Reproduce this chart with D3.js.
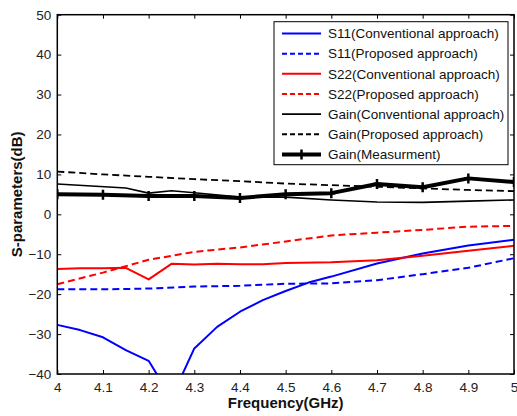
<!DOCTYPE html>
<html><head><meta charset="utf-8">
<script src="https://cdn.jsdelivr.net/npm/d3@7"></script>
<style>body{margin:0;background:#fff}svg{display:block}text{font-family:"Liberation Sans",Arial,sans-serif}</style>
</head><body><svg id="c" width="517" height="416"></svg>
<script>
const freq = [4,4.1,4.2,4.3,4.4,4.5,4.6,4.7,4.8,4.9,5];
const s11ConvF = [4,4.05,4.1,4.15,4.2,4.25,4.3,4.35,4.4,4.45,4.5,4.55,4.6,4.7,4.8,4.9,5];
const s11Conv  = [-27.7,-29.0,-30.8,-34.0,-36.7,-46,-33.6,-28.2,-24.4,-21.5,-19.2,-17.1,-15.6,-12.3,-9.8,-7.8,-6.4];
const s11Prop  = [-18.8,-18.8,-18.6,-18.1,-17.9,-17.4,-17.3,-16.5,-15.0,-13.4,-11.0];
const s22ConvF = [4,4.05,4.1,4.15,4.2,4.25,4.3,4.35,4.4,4.45,4.5,4.6,4.7,4.8,4.9,5];
const s22Conv  = [-13.7,-13.5,-13.5,-13.4,-16.3,-12.4,-12.6,-12.4,-12.5,-12.5,-12.2,-12.0,-11.5,-10.4,-9.1,-7.9];
const s22Prop  = [-17.5,-14.6,-11.4,-9.4,-8.3,-6.8,-5.3,-4.6,-3.9,-3.1,-2.9];
const gainConvF = [4,4.15,4.2,4.25,4.3,4.4,4.5,4.6,4.7,4.8,4.9,5];
const gainConv  = [7.6,6.6,5.3,5.9,5.4,4.3,4.3,3.6,3.1,3.0,3.3,3.6];
const gainProp  = [10.7,10.0,9.4,8.8,8.3,7.7,7.3,6.9,6.5,6.1,5.8];
const gainMeas  = [5.0,4.9,4.6,4.6,4.1,5.0,5.3,7.6,6.8,9.0,8.1];
const xTicks = [4,4.1,4.2,4.3,4.4,4.5,4.6,4.7,4.8,4.9,5];
const yTicks = [-40,-30,-20,-10,0,10,20,30,40,50];
const legendLabels = ["S11(Conventional approach)","S11(Proposed approach)","S22(Conventional approach)","S22(Proposed approach)","Gain(Conventional approach)","Gain(Proposed approach)","Gain(Measurment)"];

const svg = d3.select("#c");
const L=57.3, R=514, T=14.7, B=374;
const x = d3.scaleLinear().domain([4,5]).range([L,R]);
const y = d3.scaleLinear().domain([-40,50]).range([B,T]);

svg.append("defs").append("clipPath").attr("id","clip").append("rect")
  .attr("x",L).attr("y",T).attr("width",R-L).attr("height",B-T);

const g = svg.append("g").attr("clip-path","url(#clip)");
const line = d3.line().x(d=>x(d[0])).y(d=>y(d[1]));
const zip=(a,b)=>a.map((v,i)=>[v,b[i]]);

const series = [
  {xs:s11ConvF, ys:s11Conv, c:"#0000ff", w:2, dash:null},
  {xs:freq, ys:s11Prop, c:"#0000ff", w:2, dash:"7,4"},
  {xs:s22ConvF, ys:s22Conv, c:"#ff0000", w:2, dash:null},
  {xs:freq, ys:s22Prop, c:"#ff0000", w:2, dash:"7,4"},
  {xs:gainConvF, ys:gainConv, c:"#000", w:1.6, dash:null},
  {xs:freq, ys:gainProp, c:"#000", w:1.8, dash:"7,4"},
  {xs:freq, ys:gainMeas, c:"#000", w:4, dash:null, marker:true}
];
series.forEach(s=>{
  g.append("path").attr("d",line(zip(s.xs,s.ys))).attr("fill","none")
   .attr("stroke",s.c).attr("stroke-width",s.w).attr("stroke-dasharray",s.dash)
   .attr("stroke-linejoin","round");
  if(s.marker){
    zip(s.xs,s.ys).forEach(p=>{
      g.append("path").attr("d",`M${x(p[0])-4},${y(p[1])}H${x(p[0])+4}M${x(p[0])},${y(p[1])-5}V${y(p[1])+5}`)
       .attr("stroke","#000").attr("stroke-width",2.5);
    });
  }
});

// axes
const ax = svg.append("g");
ax.append("g").attr("transform",`translate(0,${B})`).call(d3.axisBottom(x).tickValues(xTicks).tickFormat(d3.format("")).tickSizeInner(-4).tickSizeOuter(0).tickPadding(8));
ax.append("g").attr("transform",`translate(0,${T})`).call(d3.axisTop(x).tickValues(xTicks).tickFormat("").tickSizeInner(-4).tickSizeOuter(0));
ax.append("g").attr("transform",`translate(${L},0)`).call(d3.axisLeft(y).tickValues(yTicks).tickSizeInner(-4).tickSizeOuter(0).tickPadding(6));
ax.append("g").attr("transform",`translate(${R},0)`).call(d3.axisRight(y).tickValues(yTicks).tickFormat("").tickSizeInner(-4).tickSizeOuter(0));
ax.selectAll(".domain").remove();
ax.selectAll(".tick line").attr("stroke","#000").attr("stroke-width",1);
ax.selectAll(".tick text").attr("font-size",13.5).attr("fill","#222").attr("font-family","Liberation Sans, Arial, sans-serif");
svg.append("rect").attr("x",L).attr("y",T).attr("width",R-L).attr("height",B-T)
  .attr("fill","none").attr("stroke","#000").attr("stroke-width",1.5);

svg.append("text").attr("x",(L+R)/2).attr("y",408).attr("text-anchor","middle")
  .attr("font-size",15).attr("font-weight","bold").attr("fill","#111").text("Frequency(GHz)");
svg.append("text").attr("transform",`translate(22,${(T+B)/2}) rotate(-90)`).attr("text-anchor","middle")
  .attr("font-size",15).attr("font-weight","bold").attr("fill","#111").text("S-parameters(dB)");

// legend
const lg = svg.append("g");
lg.append("rect").attr("x",274).attr("y",21.7).attr("width",234).attr("height",143)
  .attr("fill","#fff").attr("stroke","#000").attr("stroke-width",1);
legendLabels.forEach((t,i)=>{
  const s=series[i], yy=33.5+i*20.15;
  lg.append("line").attr("x1",282).attr("x2",321).attr("y1",yy).attr("y2",yy)
    .attr("stroke",s.c).attr("stroke-width",s.marker?4:s.w).attr("stroke-dasharray",s.dash?"5,3":null);
  if(s.marker) lg.append("path").attr("d",`M297.5,${yy}H305.5M301.5,${yy-5}V${yy+5}`).attr("stroke","#000").attr("stroke-width",2.5);
  lg.append("text").attr("x",328).attr("y",yy+4.7).attr("font-size",13.5).attr("fill","#111").text(t);
});
</script></body></html>
